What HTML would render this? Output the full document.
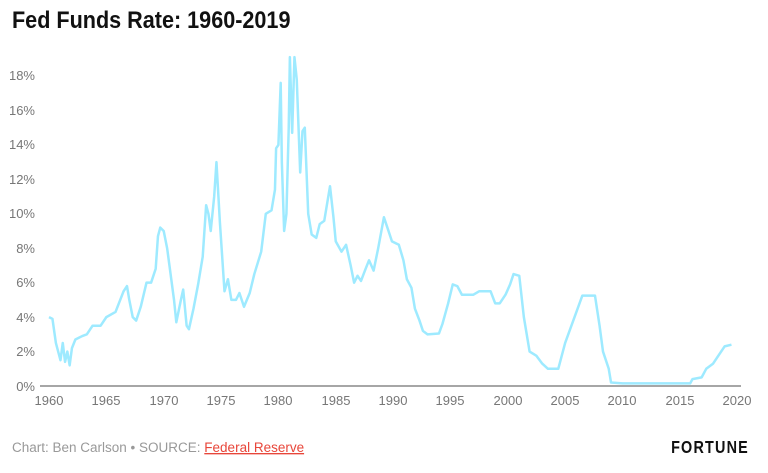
<!DOCTYPE html>
<html><head><meta charset="utf-8"><style>
body{margin:0;width:768px;height:468px;background:#fff;overflow:hidden;font-family:"Liberation Sans",sans-serif}
</style></head><body>
<svg width="768" height="468" xmlns="http://www.w3.org/2000/svg">
<text x="12" y="28" font-family="Liberation Sans" font-weight="bold" font-size="24" fill="#111" transform="scale(0.9,1)" style="transform-origin:12px 28px">Fed Funds Rate: 1960-2019</text>
<g font-family="Liberation Sans" font-size="13" fill="#777" text-anchor="end">
<text x="35" y="391">0%</text><text x="35" y="356">2%</text><text x="35" y="322">4%</text><text x="35" y="287">6%</text><text x="35" y="253">8%</text><text x="35" y="218">10%</text><text x="35" y="184">12%</text><text x="35" y="149">14%</text><text x="35" y="115">16%</text><text x="35" y="80">18%</text>
</g>
<line x1="40" y1="386" x2="741" y2="386" stroke="#888" stroke-width="1.5"/>
<g font-family="Liberation Sans" font-size="13" fill="#777" text-anchor="middle">
<text x="49" y="405">1960</text><text x="106" y="405">1965</text><text x="164" y="405">1970</text><text x="221" y="405">1975</text><text x="278" y="405">1980</text><text x="336" y="405">1985</text><text x="393" y="405">1990</text><text x="450" y="405">1995</text><text x="508" y="405">2000</text><text x="565" y="405">2005</text><text x="622" y="405">2010</text><text x="680" y="405">2015</text><text x="737" y="405">2020</text>
</g>
<g transform="translate(49,386) scale(11.47,-17.22)">
<polyline fill="none" stroke="#9eeaff" stroke-width="2.5" vector-effect="non-scaling-stroke" stroke-linejoin="round" points="0,4 0.3,3.9 0.6,2.5 0.8,2 1,1.5 1.2,2.5 1.4,1.4 1.6,2 1.8,1.2 2,2.2 2.3,2.7 2.6,2.8 2.9,2.9 3.3,3 3.8,3.5 4.5,3.5 5,4 5.8,4.3 6.5,5.5 6.8,5.8 7,5 7.3,4 7.6,3.8 8,4.6 8.5,6 8.9,6 9.3,6.8 9.5,8.7 9.7,9.2 10,9 10.3,8 10.6,6.5 10.9,5 11.1,3.7 11.5,5 11.7,5.6 12,3.5 12.2,3.3 12.6,4.5 13,5.9 13.4,7.5 13.7,10.5 13.9,10 14.1,9 14.4,11 14.6,13 14.9,9.5 15.3,5.5 15.6,6.2 15.9,5 16.3,5 16.6,5.4 17,4.6 17.5,5.4 17.9,6.5 18.5,7.8 18.9,10 19.4,10.2 19.7,11.4 19.8,13.8 20,14 20.2,17.6 20.3,13 20.5,9 20.7,10 20.9,15 21,19.1 21.2,14.7 21.4,19.1 21.6,17.8 21.9,12.4 22.1,14.8 22.3,15 22.6,10 22.9,8.8 23.3,8.6 23.6,9.4 24,9.6 24.5,11.6 24.8,9.8 25,8.4 25.5,7.8 25.9,8.2 26.3,7 26.6,6 26.9,6.4 27.2,6.1 27.6,6.8 27.9,7.3 28.3,6.7 28.7,8 29.2,9.8 29.5,9.2 29.9,8.4 30.5,8.2 30.9,7.3 31.2,6.2 31.6,5.7 31.9,4.5 32.3,3.8 32.6,3.2 33,3 34,3.05 34.3,3.6 34.8,4.8 35.2,5.9 35.6,5.8 36,5.3 37,5.3 37.5,5.5 38.5,5.5 38.9,4.8 39.3,4.8 39.8,5.3 40.2,5.9 40.5,6.5 41,6.4 41.4,4 41.9,2 42.5,1.75 43,1.3 43.5,1 44.4,1 45,2.5 46.5,5.25 47.6,5.25 48,3.5 48.3,2 48.8,1 49,0.2 50,0.15 55.9,0.15 56.1,0.4 56.9,0.5 57.3,1 57.9,1.3 58.3,1.7 58.9,2.3 59.5,2.4"/>
</g>
<text x="12" y="452" font-family="Liberation Sans" font-size="13.5" fill="#999">Chart: Ben Carlson • SOURCE: <tspan fill="#e8463a" text-decoration="underline">Federal Reserve</tspan></text>
<text x="749" y="453" text-anchor="end" font-family="Liberation Sans" font-weight="bold" font-size="18" letter-spacing="1.5" fill="#111" transform="scale(0.8,1)" style="transform-origin:749px 453px">FORTUNE</text>
</svg>
</body></html>
